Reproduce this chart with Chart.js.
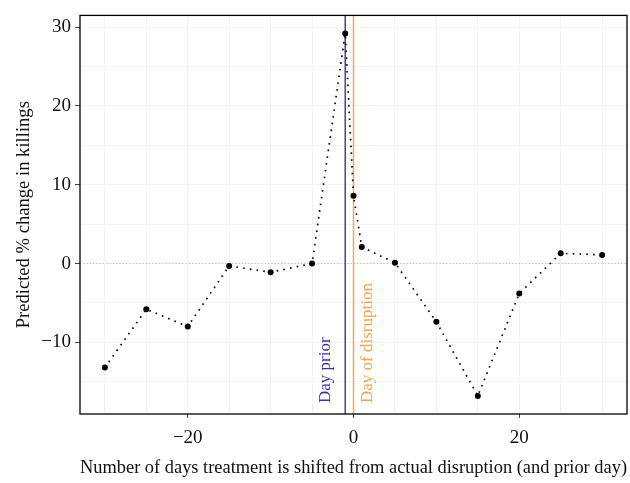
<!DOCTYPE html>
<html>
<head>
<meta charset="utf-8">
<script src="https://cdn.jsdelivr.net/npm/chart.js@4/dist/chart.umd.min.js"></script>
<style>
  html, body { margin: 0; padding: 0; background: #fff; }
  #wrap { width: 630px; height: 483px; }
</style>
</head>
<body>
<div id="wrap"><canvas id="shiftChart" width="630" height="483"></canvas></div>
<script>
// Days the treatment is shifted, and predicted % change
const shiftDays = [-30, -25, -20, -15, -10, -5, -1, 0, 1, 5, 10, 15, 20, 25, 30];
const pctChange = [-13.2, -5.8, -8.0, -0.3, -1.1, 0.0, 29.2, 8.6, 2.1, 0.1, -7.4, -16.8, -3.8, 1.3, 1.1];

const xTicks = [-30, -25, -20, -15, -10, -5, 0, 5, 10, 15, 20, 25, 30];
const xLabels = [-20, 0, 20];
const yTicks = [-15, -10, -5, 0, 5, 10, 15, 20, 25, 30];
const yLabels = [-10, 0, 10, 20, 30];

// marker lines: day prior, day of disruption
const markerDays = [-1, 0];
const markerTexts = ['Day prior', 'Day of disruption'];
const markerColors = ['#35359a', '#f7a24c'];

const serif = '"Liberation Serif", "DejaVu Serif", serif';

function fmt(v) {
    return v < 0 ? '\u2212' + Math.abs(v) : String(v);
}

// Draws the panel box, the zero reference line and the two marked days
const overlayPlugin = {
    id: 'overlay',
    beforeDatasetsDraw(chart) {
        const { ctx, chartArea, scales } = chart;
        const y0 = scales.y.getPixelForValue(0);
        ctx.save();
        ctx.strokeStyle = '#b5b5b5';
        ctx.lineWidth = 1;
        ctx.setLineDash([1, 2.3]);
        ctx.beginPath();
        ctx.moveTo(chartArea.left, y0);
        ctx.lineTo(chartArea.right, y0);
        ctx.stroke();
        ctx.setLineDash([]);

        markerDays.forEach((d, i) => {
            const px = scales.x.getPixelForValue(d);
            ctx.strokeStyle = markerColors[i];
            ctx.lineWidth = 1.4;
            ctx.beginPath();
            ctx.moveTo(px, chartArea.top);
            ctx.lineTo(px, chartArea.bottom);
            ctx.stroke();

            ctx.save();
            ctx.translate(i === 0 ? px - 15 : px + 18, 403);
            ctx.rotate(-Math.PI / 2);
            ctx.fillStyle = markerColors[i];
            ctx.font = '17px ' + serif;
            ctx.textAlign = 'left';
            ctx.textBaseline = 'alphabetic';
            ctx.fillText(markerTexts[i], 0, 0);
            ctx.restore();
        });
        ctx.restore();
    },
    afterDraw(chart) {
        const { ctx, chartArea } = chart;
        ctx.save();
        ctx.strokeStyle = '#000';
        ctx.lineWidth = 1.3;
        ctx.strokeRect(chartArea.left, chartArea.top,
            chartArea.right - chartArea.left, chartArea.bottom - chartArea.top);
        ctx.restore();
    }
};

const ctx = document.getElementById('shiftChart').getContext('2d');
new Chart(ctx, {
    type: 'line',
    data: {
        datasets: [{
            data: shiftDays.map((d, i) => ({ x: d, y: pctChange[i] })),
            borderColor: '#000',
            backgroundColor: '#000',
            borderWidth: 1.7,
            borderDash: [1.6, 5.2],
            pointRadius: 3,
            pointBorderWidth: 0,
            pointHoverRadius: 3,
            tension: 0
        }]
    },
    options: {
        responsive: false,
        animation: false,
        layout: { padding: { top: 10, right: 2, left: 0, bottom: 0 } },
        plugins: { legend: { display: false }, tooltip: { enabled: false } },
        scales: {
            x: {
                type: 'linear',
                min: -33,
                max: 33,
                afterBuildTicks: axis => { axis.ticks = xTicks.map(v => ({ value: v })); },
                afterFit: axis => { axis.height = 69; },
                border: { display: false },
                grid: {
                    color: '#f2f2f2',
                    lineWidth: 1,
                    tickLength: 4,
                    tickColor: c => xLabels.includes(c.tick.value) ? '#444' : 'rgba(0,0,0,0)'
                },
                ticks: {
                    color: '#111',
                    font: { family: serif, size: 19 },
                    padding: 9,
                    maxRotation: 0,
                    autoSkip: false,
                    callback: v => xLabels.includes(v) ? fmt(v) : ''
                },
                title: {
                    display: true,
                    text: 'Number of days treatment is shifted from actual disruption (and prior day)',
                    color: '#111',
                    font: { family: serif, size: 18.6 },
                    padding: { top: 0, bottom: 4 }
                }
            },
            y: {
                type: 'linear',
                min: -19.1,
                max: 31.5,
                afterBuildTicks: axis => { axis.ticks = yTicks.map(v => ({ value: v })); },
                afterFit: axis => { axis.width = 80; },
                border: { display: false },
                grid: {
                    color: '#f2f2f2',
                    lineWidth: 1,
                    tickLength: 5,
                    tickColor: c => yLabels.includes(c.tick.value) ? '#444' : 'rgba(0,0,0,0)'
                },
                ticks: {
                    color: '#111',
                    font: { family: serif, size: 19 },
                    padding: 4,
                    autoSkip: false,
                    callback: v => yLabels.includes(v) ? fmt(v) : ''
                },
                title: {
                    display: true,
                    text: 'Predicted % change in killings',
                    color: '#111',
                    font: { family: serif, size: 18.6 },
                    padding: { top: 13, bottom: 0 }
                }
            }
        }
    },
    plugins: [overlayPlugin]
});
</script>
</body>
</html>
